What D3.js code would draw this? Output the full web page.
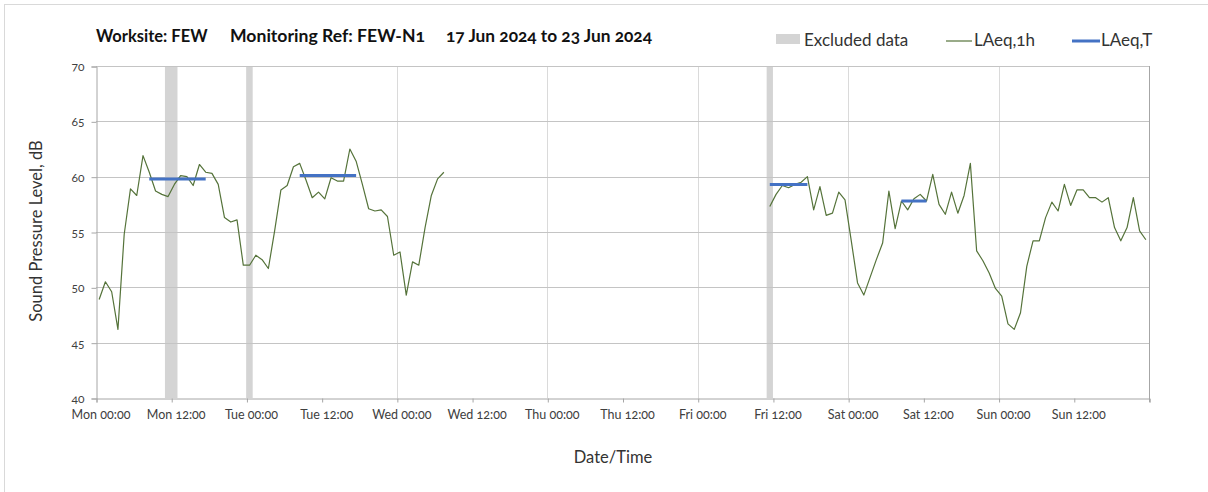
<!DOCTYPE html>
<html>
<head>
<meta charset="utf-8">
<script src="https://cdn.jsdelivr.net/npm/d3@7"></script>
<style>
  html, body { margin: 0; padding: 0; background: #fff; }
  svg { display: block; }
  text { font-family: Lato, "Open Sans", sans-serif; font-variant-numeric: oldstyle-nums; font-feature-settings: "onum" 1; }
</style>
</head>
<body>
<script>
// ---- Data (hours since Mon 17 Jun 2024 00:00) ----
const seg1Start = 0.5;   // first hourly value, Mon 00:00-01:00
const seg1Values = [48.9, 50.5, 49.6, 46.2, 54.8, 58.9, 58.3, 61.9, 60.4, 58.7,
  58.4, 58.2, 59.3, 60.1, 60.0, 59.2, 61.1, 60.4, 60.3, 59.3,
  56.3, 55.9, 56.1, 52.0, 52.0, 52.9, 52.5, 51.7, 55.1, 58.8,
  59.2, 60.9, 61.2, 59.7, 58.1, 58.6, 58.0, 59.9, 59.6, 59.6,
  62.5, 61.4, 59.3, 57.1, 56.9, 57.0, 56.4, 52.9, 53.2, 49.3,
  52.3, 52.0, 55.4, 58.3, 59.8, 60.4];
const seg2Start = 107.5; // Fri 11:00-12:00
const seg2Values = [57.3, 58.4, 59.2, 59.0, 59.3, 59.5, 60.0, 57.0, 59.1, 56.5,
  56.7, 58.6, 57.9, 54.2, 50.4, 49.3, 50.9, 52.5, 54.0, 58.7,
  55.3, 57.8, 57.0, 58.0, 58.4, 57.8, 60.2, 57.5, 56.6, 58.6,
  56.7, 58.3, 61.2, 53.3, 52.4, 51.3, 49.9, 49.2, 46.7, 46.2,
  47.7, 51.9, 54.2, 54.2, 56.3, 57.7, 56.9, 59.3, 57.4, 58.8,
  58.8, 58.1, 58.1, 57.7, 58.1, 55.4, 54.2, 55.4, 58.1, 55.1, 54.3];
// LAeq,T periods: [start, end, level]
const laeqTStart = [8.5, 32.5, 107.5, 128.5];
const laeqTEnd   = [17.5, 41.5, 113.5, 132.5];
const laeqTLevel = [59.8, 60.1, 59.3, 57.8];
// Excluded data periods
const exclStart = [11, 24, 107];
const exclEnd   = [13, 25, 108];
// Axes
const xTickHours  = [0, 12, 24, 36, 48, 60, 72, 84, 96, 108, 120, 132, 144, 156];
const xTickLabels = ["Mon 00:00", "Mon 12:00", "Tue 00:00", "Tue 12:00", "Wed 00:00", "Wed 12:00",
  "Thu 00:00", "Thu 12:00", "Fri 00:00", "Fri 12:00", "Sat 00:00", "Sat 12:00", "Sun 00:00", "Sun 12:00"];
const dayLines = [24, 48, 72, 96, 120, 144, 168];
const yTicks = [40, 45, 50, 55, 60, 65, 70];

// ---- Layout ----
const W = 1208, H = 492;
const L = 96, R = 1149, T = 66, B = 398;

const svg = d3.select("body").append("svg").attr("width", W).attr("height", H);

// outer chart border
svg.append("rect").attr("x", 4.5).attr("y", 4.5).attr("width", 1230).attr("height", 520)
  .attr("fill", "none").attr("stroke", "#d9d9d9").attr("stroke-width", 1);

const x = d3.scaleLinear().domain([0, 168]).range([L, R]);
const y = d3.scaleLinear().domain([40, 70]).range([B, T]);

// excluded bars
svg.append("g").selectAll("rect").data(exclStart.map((s, i) => [s, exclEnd[i]])).join("rect")
  .attr("x", d => x(d[0])).attr("width", d => x(d[1]) - x(d[0]))
  .attr("y", T).attr("height", B - T).attr("fill", "#d4d4d4");

// vertical day gridlines
svg.append("g").selectAll("line").data(dayLines.slice(0, -1)).join("line")
  .attr("x1", d => Math.round(x(d)) + 0.5).attr("x2", d => Math.round(x(d)) + 0.5)
  .attr("y1", T).attr("y2", B).attr("stroke", "#dadada").attr("stroke-width", 1);

// horizontal gridlines
svg.append("g").selectAll("line").data(yTicks.slice(1)).join("line")
  .attr("x1", L).attr("x2", R)
  .attr("y1", d => Math.round(y(d)) + 0.5).attr("y2", d => Math.round(y(d)) + 0.5)
  .attr("stroke", "#c4c4c4").attr("stroke-width", 1);

// right border line (hour 168)
svg.append("line").attr("x1", Math.round(x(168)) + 0.5).attr("x2", Math.round(x(168)) + 0.5)
  .attr("y1", T).attr("y2", B + 4).attr("stroke", "#a6a6a6");

// y axis
const yAxis = d3.axisLeft(y).tickValues(yTicks).tickSize(5).tickPadding(7);
const gy = svg.append("g").attr("transform", `translate(${L + 0.5},0.5)`).call(yAxis);
gy.select(".domain").attr("stroke", "#a6a6a6");
gy.selectAll(".tick line").attr("stroke", "#a6a6a6");
gy.selectAll(".tick text").attr("font-size", 12).attr("fill", "#404040")
  .style("font-family", "Lato, sans-serif");

// x axis
const xAxis = d3.axisBottom(x).tickValues(xTickHours.concat([168])).tickSize(4)
  .tickFormat((d, i) => i < xTickLabels.length ? xTickLabels[i] : "");
const gx = svg.append("g").attr("transform", `translate(0.5,${B + 0.5})`).call(xAxis);
gx.select(".domain").attr("stroke", "#a6a6a6");
gx.selectAll(".tick line").attr("stroke", "#a6a6a6");
gx.selectAll(".tick text").attr("font-size", 12.5).attr("fill", "#404040").attr("dy", "1.1em")
  .attr("dx", 4);

// LAeq,1h lines
const line = d3.line().x(d => x(d[0])).y(d => y(d[1]));
const seg1 = seg1Values.map((v, i) => [seg1Start + i, v]);
const seg2 = seg2Values.map((v, i) => [seg2Start + i, v]);
svg.append("g").selectAll("path").data([seg1, seg2]).join("path")
  .attr("d", line).attr("fill", "none").attr("stroke", "#55733a").attr("stroke-width", 1.2)
  .attr("stroke-linejoin", "round");

// LAeq,T lines
svg.append("g").selectAll("line").data(laeqTStart.map((s, i) => [s, laeqTEnd[i], laeqTLevel[i]])).join("line")
  .attr("x1", d => x(d[0])).attr("x2", d => x(d[1]))
  .attr("y1", d => y(d[2])).attr("y2", d => y(d[2]))
  .attr("stroke", "#4472c4").attr("stroke-width", 3);

// title
const title = svg.append("g").attr("font-weight", "bold").attr("font-size", 16.5).attr("fill", "#111");
title.append("text").attr("x", 96).attr("y", 42).text("Worksite: FEW");
title.append("text").attr("x", 230).attr("y", 42).attr("textLength", 195)
  .attr("lengthAdjust", "spacingAndGlyphs").text("Monitoring Ref: FEW-N1");
title.append("text").attr("x", 446).attr("y", 42).attr("textLength", 206)
  .attr("lengthAdjust", "spacingAndGlyphs").text("17 Jun 2024 to 23 Jun 2024");

// legend
const lg = svg.append("g").attr("font-size", 17).attr("fill", "#333");
lg.append("rect").attr("x", 776).attr("y", 34).attr("width", 24).attr("height", 10).attr("fill", "#d4d4d4");
lg.append("text").attr("x", 804).attr("y", 46).attr("fill", "#333").text("Excluded data");
lg.append("line").attr("x1", 946).attr("x2", 972).attr("y1", 41).attr("y2", 41)
  .attr("stroke", "#55733a").attr("stroke-width", 1.2);
lg.append("text").attr("x", 974).attr("y", 46).attr("fill", "#333").text("LAeq,1h");
lg.append("line").attr("x1", 1072).attr("x2", 1100).attr("y1", 41).attr("y2", 41)
  .attr("stroke", "#4472c4").attr("stroke-width", 3);
lg.append("text").attr("x", 1101).attr("y", 46).attr("fill", "#333").text("LAeq,T");

// axis titles
svg.append("text").attr("transform", "translate(42,231) rotate(-90)").attr("text-anchor", "middle")
  .attr("font-size", 16.5).attr("fill", "#333").text("Sound Pressure Level, dB");
svg.append("text").attr("x", 613).attr("y", 463).attr("text-anchor", "middle")
  .attr("font-size", 16.5).attr("fill", "#333").text("Date/Time");
</script>
</body>
</html>
